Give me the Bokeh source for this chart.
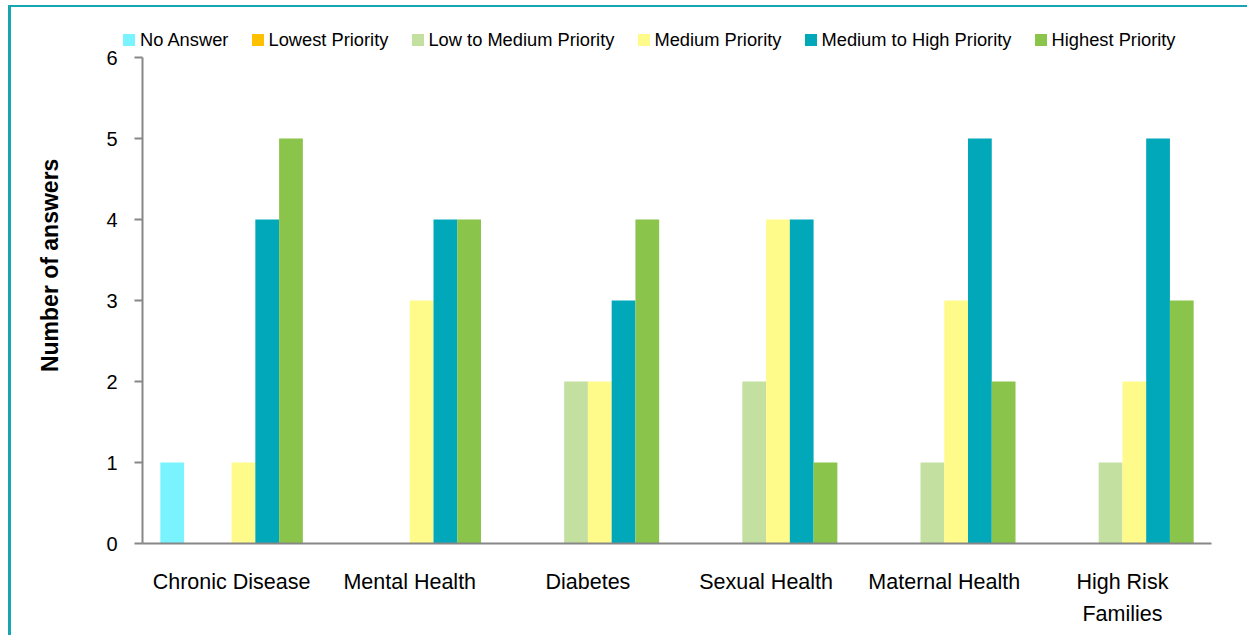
from bokeh.plotting import figure
from bokeh.layouts import column
from bokeh.models import ColumnDataSource, FactorRange, Range1d, FixedTicker, Div
from bokeh.transform import dodge
from bokeh.embed import file_html
from bokeh.resources import INLINE

categories = ["Chronic Disease", "Mental Health", "Diabetes", "Sexual Health",
              "Maternal Health", "High Risk\nFamilies"]
series_names = ["No Answer", "Lowest Priority", "Low to Medium Priority",
                "Medium Priority", "Medium to High Priority", "Highest Priority"]
no_answer = [1, 0, 0, 0, 0, 0]
lowest = [0, 0, 0, 0, 0, 0]
low_medium = [0, 0, 2, 2, 1, 1]
medium = [1, 3, 2, 4, 3, 2]
medium_high = [4, 4, 3, 4, 5, 5]
highest = [5, 4, 4, 1, 2, 3]
y_ticks = [0, 1, 2, 3, 4, 5, 6]
y_label = "Number of answers"

colors = ["#79F3FD", "#FFC000", "#C3E0A1", "#FFFB8B", "#00A8BA", "#8AC44B"]
FONT = "Liberation Sans"
FRAME = "#17A5B4"

cols = ["s0", "s1", "s2", "s3", "s4", "s5"]
source = ColumnDataSource(dict(cat=categories, s0=no_answer, s1=lowest, s2=low_medium,
                               s3=medium, s4=medium_high, s5=highest))

W = 1236
w = 0.8 / 6

# ---- legend strip (HTML legend above the chart) ----
parts = []
for c, name in zip(colors, series_names):
    parts.append(
        '<span style="display:inline-block;flex:none;width:12px;height:12px;'
        'background:%s;margin-right:4.7px"></span>'
        '<span style="flex:none;margin-right:23.4px;white-space:nowrap">%s</span>' % (c, name))
legend_html = (
    '<div style="display:flex;align-items:center;height:22px;margin-top:21.7px;'
    'padding-left:112.3px;font-family:\'Liberation Sans\';font-size:18.3px;'
    'line-height:22px;color:#000;white-space:nowrap;overflow:visible">' + "".join(parts) + '</div>')
leg = Div(text=legend_html, width=W, height=40, margin=0,
          styles={"overflow": "visible", "z-index": "1"})

# ---- main chart ----
p = figure(x_range=FactorRange(*categories), y_range=Range1d(0, 6),
           width=W, height=588, output_backend="svg", toolbar_location=None,
           min_border_left=131, min_border_right=36, min_border_top=10, min_border_bottom=92)
p.outline_line_color = None
p.xgrid.grid_line_color = None
p.ygrid.grid_line_color = None
p.background_fill_color = "white"
p.border_fill_alpha = 0

for i, c in enumerate(cols):
    off = (i - 2.5) * w
    p.vbar(x=dodge("cat", off, range=p.x_range), top=c, width=w, source=source,
           fill_color=colors[i], line_color=None)

ax = p.xaxis[0]
ax.axis_line_color = "#878787"
ax.axis_line_width = 2
ax.major_tick_line_color = None
ax.major_tick_out = 0
ax.major_tick_in = 0
ax.minor_tick_line_color = None
ax.major_label_text_font = FONT
ax.major_label_text_font_size = "21.5px"
ax.major_label_text_line_height = 1.35
ax.major_label_text_color = "black"
ax.major_label_standoff = 26

ay = p.yaxis[0]
ay.ticker = FixedTicker(ticks=y_ticks)
ay.axis_line_color = "#878787"
ay.axis_line_width = 2
ay.major_tick_line_color = "#878787"
ay.major_tick_line_width = 2
ay.major_tick_out = 8
ay.major_tick_in = 0
ay.minor_tick_line_color = None
ay.major_label_text_font = FONT
ay.major_label_text_font_size = "20px"
ay.major_label_text_color = "black"
ay.major_label_standoff = 17
ay.axis_label = "\u00a0" * 11 + y_label
ay.axis_label_text_font = FONT
ay.axis_label_text_font_style = "bold"
ay.axis_label_text_font_size = "23px"
ay.axis_label_text_color = "black"
ay.axis_label_standoff = 40

layout = column(leg, p, spacing=0)
layout.styles = {"border-top": "2px solid " + FRAME, "border-left": "3px solid " + FRAME,
                 "margin-top": "5px", "margin-left": "8px"}

open("out.html", "w").write(file_html(layout, INLINE))
